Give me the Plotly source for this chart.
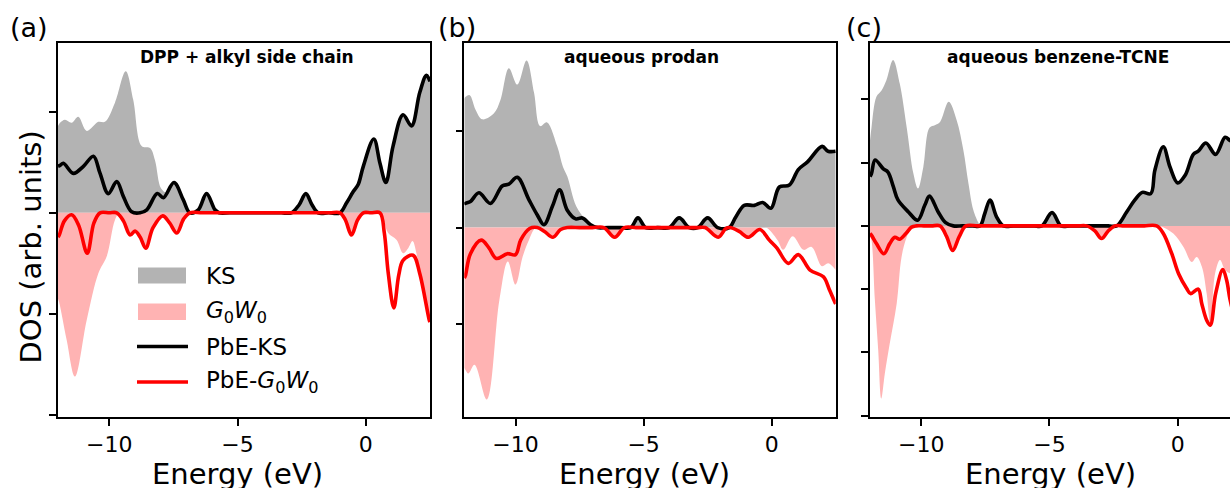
import plotly.graph_objects as go

W, H = 1230, 488
FONT = "DejaVu Sans"

# ---------------- data (arb. units) ----------------
# Panel (a): DPP + alkyl side chain
a_ks_E = [-12.0, -11.92, -11.73, -11.47, -11.21, -10.88, -10.43, -10.17, -9.78, -9.36, -9.07, -8.74, -8.41,
          -8.22, -7.98, -7.75, -7.47, -7.12, -6.82, -6.53, -6.21, -5.88, -5.72, -5.3, -4.8, -4.3, -3.8, -3.3,
          -2.9, -2.6, -2.34, -2.1, -1.86, -1.45, -1.05, -0.75, -0.49, -0.30, -0.10, 0.31, 0.55, 0.78, 1.06,
          1.45, 1.78, 2.10, 2.36, 2.5]
a_ks = [0.86, 0.89, 0.92, 0.89, 0.95, 0.81, 0.90, 0.90, 1.09, 1.40, 1.12, 0.66, 0.64,
        0.52, 0.24, 0.20, 0.30, 0.13, 0.01, 0.03, 0.19, 0.03, 0.0, 0.0, 0.0, 0.0, 0.0, 0.0,
        0.0, 0.08, 0.19, 0.08, 0.0, 0.0, 0.0, 0.10, 0.21, 0.28, 0.46, 0.73, 0.49, 0.30, 0.66,
        0.97, 0.86, 1.19, 1.36, 1.30]
a_g_E = [-12.0, -11.95, -11.66, -11.34, -10.88, -10.43, -10.10, -9.78, -9.6, -9.45, -9.19, -9.0, -8.8, -8.58,
         -8.3, -7.92, -7.65, -7.37, -7.1, -6.86, -6.4, -5.9, -5.4, -4.9, -4.4, -3.9, -3.4, -2.9, -2.4, -1.9,
         -1.4, -1.01, -0.8, -0.56, -0.32, -0.10, 0.2, 0.55, 0.72, 0.87, 1.20, 1.45, 1.65, 1.82, 1.97, 2.1,
         2.3, 2.5]
a_g = [-0.85, -0.89, -1.26, -1.62, -1.06, -0.60, -0.43, -0.07, 0.0, -0.08, -0.23, -0.19, -0.25, -0.36,
       -0.16, -0.04, -0.11, -0.21, -0.07, 0.0, 0.0, 0.0, 0.0, 0.0, 0.0, 0.0, 0.0, 0.0, 0.0, 0.0,
       0.0, 0.0, -0.08, -0.23, -0.08, 0.0, 0.0, 0.0, -0.10, -0.20, -0.27, -0.40, -0.35, -0.28, -0.40, -0.60,
       -0.85, -1.08]
a_pks_E = [-12.0, -11.92, -11.79, -11.40, -11.01, -10.62, -10.36, -10.04, -9.71, -9.45, -9.13, -8.80, -8.54,
           -8.13, -7.89, -7.48, -7.12, -6.86, -6.53, -6.21, -5.88, -5.72, -5.3, -4.8, -4.3, -3.8, -3.3,
           -2.9, -2.6, -2.34, -2.1, -1.86, -1.45, -1.01, -0.75, -0.49, -0.30, -0.10, 0.31, 0.55, 0.78, 1.06,
           1.45, 1.78, 2.10, 2.36, 2.5]
a_pks = [0.46, 0.47, 0.49, 0.39, 0.46, 0.56, 0.39, 0.19, 0.31, 0.16, 0.01, 0.0, 0.03,
         0.19, 0.15, 0.30, 0.13, 0.0, 0.03, 0.19, 0.03, 0.0, 0.0, 0.0, 0.0, 0.0, 0.0,
         0.0, 0.08, 0.19, 0.08, 0.0, 0.0, 0.0, 0.10, 0.21, 0.28, 0.46, 0.73, 0.49, 0.30, 0.66,
         0.97, 0.86, 1.19, 1.36, 1.30]
a_pg_E = [-12.0, -11.95, -11.75, -11.47, -11.2, -10.86, -10.6, -10.36, -10.0, -9.71, -9.45, -9.19, -9.0, -8.8,
          -8.58, -8.3, -7.92, -7.65, -7.37, -7.1, -6.86, -6.4, -5.9, -5.4, -4.9, -4.4, -3.9, -3.4, -2.9, -2.4,
          -1.9, -1.4, -1.01, -0.8, -0.56, -0.32, -0.10, 0.2, 0.55, 0.72, 0.87, 1.09, 1.28, 1.45, 1.84, 2.1,
          2.47, 2.5]
a_pg = [-0.24, -0.22, -0.08, -0.02, -0.12, -0.40, -0.10, 0.0, 0.0, 0.0, -0.08, -0.22, -0.18, -0.24,
        -0.35, -0.15, -0.03, -0.10, -0.20, -0.06, 0.0, 0.0, 0.0, 0.0, 0.0, 0.0, 0.0, 0.0, 0.0, 0.0,
        0.0, 0.0, 0.0, -0.07, -0.22, -0.07, 0.0, 0.0, 0.0, -0.20, -0.59, -0.94, -0.62, -0.47, -0.42, -0.60,
        -1.06, -1.08]

# Panel (b): aqueous prodan
b_ks_E = [-12.0, -11.96, -11.79, -11.56, -11.30, -10.85, -10.59, -10.26, -9.93, -9.57, -9.28, -9.04, -8.78,
          -8.37, -8.15, -7.98, -7.63, -7.26, -6.95, -6.5, -6.0, -5.50, -5.22, -4.92, -4.45, -4.00, -3.61,
          -3.22, -2.89, -2.50, -2.11, -1.66, -1.40, -1.07, -0.68, -0.35, -0.03, 0.30, 0.69, 1.04, 1.40,
          1.97, 2.20, 2.5]
b_ks = [1.33, 1.35, 1.37, 1.22, 1.12, 1.18, 1.32, 1.65, 1.48, 1.73, 1.40, 1.05, 1.09,
        0.84, 0.63, 0.53, 0.22, 0.08, 0.0, 0.0, 0.0, 0.0, 0.10, 0.0, 0.0, 0.0, 0.10,
        0.0, 0.0, 0.10, 0.0, 0.0, 0.11, 0.23, 0.23, 0.26, 0.20, 0.42, 0.44, 0.60, 0.68,
        0.84, 0.79, 0.79]
b_g_E = [-12.0, -11.96, -11.84, -11.6, -11.12, -10.63, -10.30, -10.00, -9.72, -9.48, -9.19, -8.87, -8.56,
         -8.24, -7.98, -7.5, -7.0, -6.55, -6.18, -5.80, -5.3, -4.8, -4.3, -3.8, -3.3, -2.9, -2.6, -2.15,
         -1.79, -1.53, -1.27, -0.94, -0.48, -0.22, 0.23, 0.45, 0.82, 1.24, 1.56, 1.96, 2.21, 2.5]
b_g = [-1.45, -1.47, -1.51, -1.42, -1.78, -0.75, -0.35, -0.59, -0.30, -0.13, 0.0, -0.05, -0.11,
       -0.03, 0.0, 0.0, 0.0, 0.0, -0.10, 0.0, 0.0, 0.0, 0.0, 0.0, 0.0, 0.0, 0.0, -0.11,
       -0.01, 0.0, -0.05, -0.11, -0.01, 0.0, -0.13, -0.23, -0.09, -0.23, -0.20, -0.40, -0.37, -0.44]
b_pks_E = [-12.0, -11.96, -11.76, -11.43, -10.98, -10.52, -10.26, -9.93, -9.48, -9.15, -8.89, -8.56, -8.28,
           -7.98, -7.65, -7.39, -7.07, -6.82, -6.4, -5.9, -5.50, -5.22, -4.92, -4.45, -4.00, -3.61, -3.22,
           -2.89, -2.50, -2.11, -1.66, -1.40, -1.07, -0.68, -0.35, -0.03, 0.30, 0.69, 1.04, 1.40, 1.97, 2.20,
           2.5]
b_pks = [0.24, 0.25, 0.27, 0.36, 0.25, 0.43, 0.45, 0.52, 0.29, 0.13, 0.03, 0.22, 0.39,
         0.18, 0.09, 0.10, 0.03, 0.0, 0.0, 0.0, 0.0, 0.10, 0.0, 0.0, 0.0, 0.10, 0.0,
         0.0, 0.10, 0.0, 0.0, 0.11, 0.23, 0.23, 0.26, 0.20, 0.42, 0.44, 0.60, 0.68, 0.84, 0.79,
         0.79]
b_pg_E = [-12.0, -11.96, -11.76, -11.34, -11.04, -10.75, -10.32, -10.0, -9.80, -9.45, -9.15, -8.87, -8.54,
          -8.24, -7.98, -7.5, -7.0, -6.55, -6.13, -5.75, -5.3, -4.8, -4.3, -3.8, -3.3, -2.9, -2.6, -2.09,
          -1.79, -1.63, -1.27, -0.91, -0.46, -0.09, 0.20, 0.65, 1.04, 1.50, 2.02, 2.25, 2.48, 2.5]
b_pg = [-0.52, -0.50, -0.27, -0.13, -0.21, -0.32, -0.27, -0.28, -0.13, -0.01, 0.0, -0.04, -0.10,
        -0.02, 0.0, 0.0, 0.0, 0.0, -0.10, 0.0, 0.0, 0.0, 0.0, 0.0, 0.0, 0.0, 0.0, -0.10,
        -0.01, 0.0, -0.04, -0.10, -0.02, -0.13, -0.21, -0.37, -0.28, -0.44, -0.51, -0.64, -0.78, -0.79]

# Panel (c): aqueous benzene-TCNE
c_ks_E = [-12.0, -11.94, -11.75, -11.55, -11.36, -11.10, -10.84, -10.57, -10.31, -10.13, -9.92, -9.68, -9.47,
          -9.27, -8.93, -8.62, -8.36, -8.16, -7.97, -7.77, -7.71, -7.52, -7.32, -7.06, -6.80, -6.4, -6.0,
          -5.6, -5.30, -4.90, -4.55, -4.2, -3.8, -3.4, -3.0, -2.7, -2.38, -1.99, -1.67, -1.38, -1.05, -0.89,
          -0.56, -0.30, 0.0, 0.29, 0.61, 0.80, 1.10, 1.48, 1.85, 2.04, 2.3, 2.5]
c_ks = [1.35, 1.56, 2.04, 2.14, 2.30, 2.62, 2.25, 1.56, 0.83, 0.59, 0.93, 1.55, 1.59,
        1.64, 1.96, 1.67, 1.20, 0.67, 0.25, 0.05, 0.02, 0.20, 0.41, 0.14, 0.0, 0.0, 0.0,
        0.0, 0.0, 0.21, 0.0, 0.0, 0.0, 0.0, 0.0, 0.0, 0.0, 0.22, 0.41, 0.53, 0.51, 0.88,
        1.25, 0.93, 0.68, 0.80, 1.13, 1.18, 1.31, 1.13, 1.40, 1.35, 1.3, 1.3]
c_g_E = [-12.0, -11.94, -11.81, -11.68, -11.56, -11.42, -11.23, -10.96, -10.77, -10.57, -10.35, -10.0, -9.6,
         -9.27, -9.01, -8.78, -8.52, -8.26, -7.8, -7.3, -6.8, -6.3, -5.8, -5.3, -4.8, -4.3, -3.9, -3.55,
         -3.23, -2.97, -2.71, -2.45, -2.1, -1.7, -1.3, -0.95, -0.69, -0.17, 0.22, 0.55, 0.74, 0.94,
         1.13, 1.27, 1.46, 1.65, 1.85, 2.04, 2.3, 2.5]
c_g = [-0.15, -0.23, -1.17, -1.96, -2.73, -2.33, -1.86, -1.23, -0.49, -0.18, 0.0, 0.0, 0.0,
       0.0, -0.17, -0.39, -0.17, 0.0, 0.0, 0.0, 0.0, 0.0, 0.0, 0.0, 0.0, 0.0, 0.0, 0.0,
       -0.08, -0.20, -0.08, 0.0, 0.0, 0.0, 0.0, 0.0, 0.0, -0.12, -0.33, -0.57, -0.49, -0.64,
       -1.07, -1.55, -0.75, -0.54, -0.70, -0.75, -0.8, -0.8]
c_pks_E = [-12.0, -11.94, -11.80, -11.48, -11.30, -11.09, -10.91, -10.50, -10.14, -9.86, -9.68, -9.34, -9.05,
           -8.75, -8.4, -8.0, -7.71, -7.52, -7.32, -7.06, -6.80, -6.4, -6.0, -5.6, -5.30, -4.90, -4.55,
           -4.2, -3.8, -3.4, -3.0, -2.7, -2.38, -1.99, -1.67, -1.38, -1.05, -0.89, -0.56, -0.30, 0.0, 0.29,
           0.61, 0.80, 1.10, 1.48, 1.85, 2.04, 2.3, 2.5]
c_pks = [0.78, 0.83, 1.04, 0.90, 0.85, 0.62, 0.41, 0.22, 0.09, 0.33, 0.47, 0.22, 0.05,
         0.0, 0.0, 0.0, 0.0, 0.20, 0.41, 0.14, 0.0, 0.0, 0.0, 0.0, 0.0, 0.21, 0.0,
         0.0, 0.0, 0.0, 0.0, 0.0, 0.0, 0.22, 0.41, 0.53, 0.51, 0.88, 1.25, 0.93, 0.68, 0.80,
         1.13, 1.18, 1.31, 1.13, 1.40, 1.35, 1.3, 1.3]
c_pg_E = [-12.0, -11.94, -11.75, -11.46, -11.23, -11.03, -10.84, -10.60, -10.38, -10.2, -9.9, -9.6, -9.27,
          -9.01, -8.78, -8.52, -8.26, -7.8, -7.3, -6.8, -6.3, -5.8, -5.3, -4.8, -4.3, -3.9, -3.55, -3.23,
          -2.97, -2.71, -2.45, -2.1, -1.7, -1.3, -0.82, -0.56, -0.23, 0.04, 0.35, 0.50, 0.80, 0.94, 1.13,
          1.27, 1.48, 1.76, 1.91, 2.04, 2.2, 2.5]
c_pg = [-0.12, -0.15, -0.28, -0.44, -0.28, -0.18, -0.21, -0.12, -0.02, 0.0, 0.0, 0.0, 0.0,
        -0.17, -0.39, -0.17, 0.0, 0.0, 0.0, 0.0, 0.0, 0.0, 0.0, 0.0, 0.0, 0.0, 0.0, -0.08,
        -0.20, -0.08, 0.0, 0.0, 0.0, 0.0, 0.0, -0.12, -0.44, -0.76, -0.99, -1.07, -1.00, -1.23, -1.49,
        -1.57, -1.07, -0.69, -0.86, -1.16, -1.4, -1.6]

panel_titles = ["DPP + alkyl side chain", "aqueous prodan", "aqueous benzene-TCNE"]
panel_letters = ["(a)", "(b)", "(c)"]
x_ticks = [-10, -5, 0]
x_ticktext = ["\u221210", "\u22125", "0"]
legend_labels = ["KS", "<i>G</i><sub>0</sub><i>W</i><sub>0</sub>", "PbE-KS",
                 "PbE-<i>G</i><sub>0</sub><i>W</i><sub>0</sub>"]

panels = [
    (a_ks_E, a_ks, a_g_E, a_g, a_pks_E, a_pks, a_pg_E, a_pg),
    (b_ks_E, b_ks, b_g_E, b_g, b_pks_E, b_pks, b_pg_E, b_pg),
    (c_ks_E, c_ks, c_g_E, c_g, c_pks_E, c_pks, c_pg_E, c_pg),
]

# ---------------- layout geometry (pixels) ----------------
def fx(p):
    return p / W


def fy(p):
    return 1 - p / H


x_px = [(58, 430), (464.3, 835.7), (870, 1230)]
x_ranges = [[-12.0, 2.5], [-12.0, 2.5], [-12.0, 2.04]]
y_ranges = [[-2.02, 1.68], [-1.96, 1.91], [-3.02, 2.89]]
y_ticks = [[-2, -1, 0, 1], [-2, -1, 0, 1], [-3, -2, -1, 0, 1, 2]]
title_cx = [246.7, 641.7, 1057.5]
letter_x = [8, 436, 844]
xlabel_cx = [238, 644, 1050]

GRAY = "rgb(179,179,179)"
PINK = "rgb(255,179,179)"
LW = 3.6
SM = 1.0

fig = go.Figure()
for i, (ksE, ks, gE, g, pksE, pks, pgE, pg) in enumerate(panels):
    xa = "x" if i == 0 else f"x{i+1}"
    ya = "y" if i == 0 else f"y{i+1}"
    common = dict(xaxis=xa, yaxis=ya, mode="lines", hoverinfo="skip", showlegend=False)
    fig.add_trace(go.Scatter(x=ksE, y=ks, fill="tozeroy", fillcolor=GRAY,
                             line=dict(width=0, color=GRAY, shape="spline", smoothing=SM), **common))
    fig.add_trace(go.Scatter(x=gE, y=g, fill="tozeroy", fillcolor=PINK,
                             line=dict(width=0, color=PINK, shape="spline", smoothing=SM), **common))
    fig.add_trace(go.Scatter(x=pksE, y=pks, line=dict(width=LW, color="black", shape="spline", smoothing=SM),
                             **common))
    fig.add_trace(go.Scatter(x=pgE, y=pg, line=dict(width=LW, color="red", shape="spline", smoothing=SM),
                             **common))

layout = dict(
    width=W, height=H, margin=dict(l=0, r=0, t=0, b=0),
    paper_bgcolor="white", plot_bgcolor="white",
    font=dict(family=FONT, color="black"),
)
for i in range(3):
    xk = "xaxis" if i == 0 else f"xaxis{i+1}"
    yk = "yaxis" if i == 0 else f"yaxis{i+1}"
    ya = "y" if i == 0 else f"y{i+1}"
    xa = "x" if i == 0 else f"x{i+1}"
    layout[xk] = dict(domain=[fx(x_px[i][0]), fx(x_px[i][1])], anchor=ya, range=x_ranges[i],
                      showgrid=False, zeroline=False, showline=True, mirror=True, linecolor="black",
                      linewidth=1.5, ticks="outside", ticklen=7, tickwidth=1.5, tickcolor="black",
                      tickvals=x_ticks, ticktext=x_ticktext, tickfont=dict(family=FONT, size=22))
    layout[yk] = dict(domain=[fy(417), fy(43)], anchor=xa, range=y_ranges[i],
                      showgrid=False, zeroline=False, showline=True, mirror=(i < 2), linecolor="black",
                      linewidth=1.5, ticks="outside", ticklen=7, tickwidth=1.5, tickcolor="black",
                      tickvals=y_ticks[i], showticklabels=False)
fig.update_layout(**layout)

ann = []
shapes = []
for i in range(3):
    ann.append(dict(text=panel_letters[i], x=fx(letter_x[i]), y=fy(27.5), xref="paper", yref="paper",
                    xanchor="left", yanchor="middle", showarrow=False, font=dict(family=FONT, size=27)))
    ann.append(dict(text="<b>" + panel_titles[i] + "</b>", x=fx(title_cx[i]), y=fy(57.5), xref="paper",
                    yref="paper", xanchor="center", yanchor="middle", showarrow=False,
                    font=dict(family=FONT, size=17)))
    ann.append(dict(text="Energy (eV)", x=fx(xlabel_cx[i]), y=fy(474), xref="paper", yref="paper",
                    xanchor="center", yanchor="middle", showarrow=False, font=dict(family=FONT, size=29)))
ann.append(dict(text="DOS (arb. units)", x=fx(30), y=fy(247.5), xref="paper", yref="paper",
                xanchor="center", yanchor="middle", textangle=-90, showarrow=False,
                font=dict(family=FONT, size=29)))

# legend (panel a)
row_y = [275.5, 311.5, 346.5, 382]
shapes.append(dict(type="rect", xref="paper", yref="paper", x0=fx(138), x1=fx(186), y0=fy(283.5), y1=fy(267.5),
                   fillcolor=GRAY, line=dict(width=0)))
shapes.append(dict(type="rect", xref="paper", yref="paper", x0=fx(138), x1=fx(186), y0=fy(320), y1=fy(303.5),
                   fillcolor=PINK, line=dict(width=0)))
shapes.append(dict(type="line", xref="paper", yref="paper", x0=fx(137), x1=fx(188), y0=fy(row_y[2]),
                   y1=fy(row_y[2]), line=dict(color="black", width=LW)))
shapes.append(dict(type="line", xref="paper", yref="paper", x0=fx(137), x1=fx(188), y0=fy(row_y[3]),
                   y1=fy(row_y[3]), line=dict(color="red", width=LW)))
for lab, ry in zip(legend_labels, row_y):
    ann.append(dict(text=lab, x=fx(204), y=fy(ry), xref="paper", yref="paper", xanchor="left",
                    yanchor="middle", showarrow=False, font=dict(family=FONT, size=23)))

fig.update_layout(annotations=ann, shapes=shapes)
fig.write_html("out.html")
